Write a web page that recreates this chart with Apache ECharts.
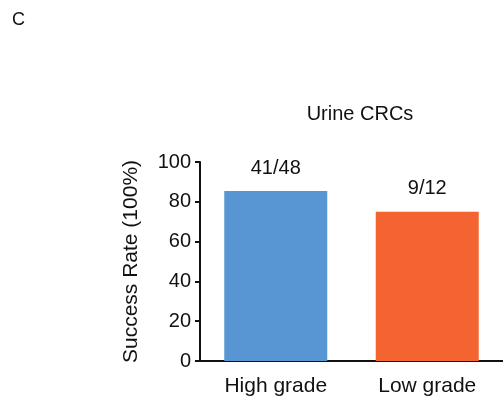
<!DOCTYPE html>
<html>
<head>
<meta charset="utf-8">
<script src="https://cdn.jsdelivr.net/npm/echarts@6/dist/echarts.min.js"></script>
<style>
  html, body { margin: 0; padding: 0; background: #fff; }
  #chart { width: 503px; height: 403px; }
</style>
</head>
<body>
<div id="chart"></div>
<script>
// Datos del gráfico
const categories = ['High grade', 'Low grade'];
const successRates = [85.4, 75];
const ratioLabels = ['41/48', '9/12'];
const barColors = ['#5796D2', '#F36431'];
const yTicks = [0, 20, 40, 60, 80, 100];

const chart = echarts.init(document.getElementById('chart'));
const font = '"Liberation Sans", Arial, sans-serif';

chart.setOption({
  animation: false,
  textStyle: { fontFamily: font },
  title: [
    { text: 'C', left: 7, top: 6, textStyle: { fontSize: 18, fontWeight: 'normal', color: '#111', fontFamily: font } },
    { text: 'Urine CRCs', left: 355, textAlign: 'center', top: 99, textStyle: { fontSize: 20, fontWeight: 'normal', color: '#111', fontFamily: font } }
  ],
  grid: { left: 200, top: 162, width: 304, height: 199 },
  xAxis: {
    type: 'category',
    data: categories,
    axisLine: { lineStyle: { color: '#111', width: 2 } },
    axisTick: { alignWithLabel: true, length: 6, lineStyle: { color: '#111', width: 2 } },
    axisLabel: { fontSize: 21, color: '#111', margin: 15, fontFamily: font }
  },
  yAxis: {
    type: 'value',
    min: yTicks[0],
    max: yTicks[yTicks.length - 1],
    interval: 20,
    name: 'Success Rate (100%)',
    nameLocation: 'middle',
    nameGap: 58,
    nameTextStyle: { fontSize: 21, color: '#111', fontFamily: font },
    splitLine: { show: false },
    axisLine: { show: true, lineStyle: { color: '#111', width: 2 } },
    axisTick: { show: true, length: 5, lineStyle: { color: '#111', width: 2 } },
    axisLabel: { fontSize: 20, color: '#111', margin: 9, fontFamily: font }
  },
  series: [{
    type: 'bar',
    barWidth: 103,
    data: successRates.map((v, i) => ({ value: v, itemStyle: { color: barColors[i] } })),
    label: {
      show: true,
      position: 'top',
      distance: 13,
      fontSize: 20,
      color: '#111',
      fontFamily: font,
      formatter: p => ratioLabels[p.dataIndex]
    }
  }]
});
</script>
</body>
</html>
